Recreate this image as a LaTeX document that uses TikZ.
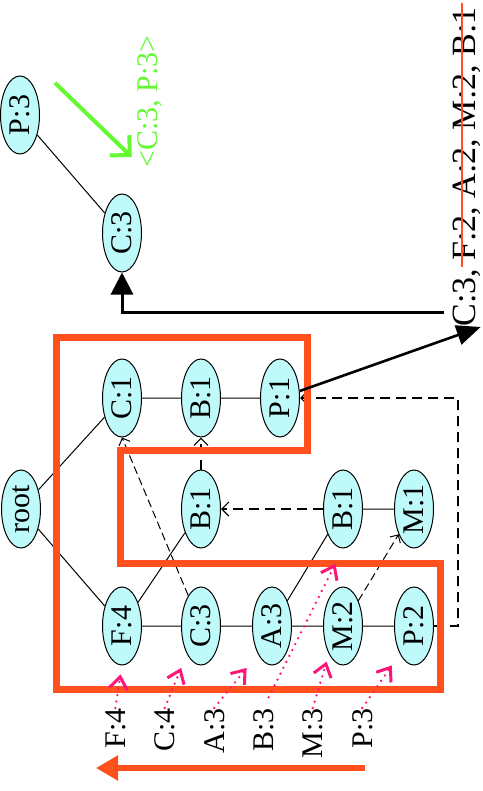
\documentclass[tikz,border=0pt]{standalone}
\usepackage{fontspec}
\setmainfont{Liberation Serif}
\usepackage{graphicx}
\usetikzlibrary{arrows.meta, shapes.geometric}
\definecolor{fpcyan}{RGB}{190,250,250}
\definecolor{fporange}{RGB}{255,80,30}
\definecolor{fppink}{RGB}{255,20,120}
\definecolor{fpgreen}{RGB}{100,250,50}

\begin{document}
\begin{tikzpicture}[x=0.5pt, y=-0.5pt, every node/.style={font=\fontsize{15}{18}\selectfont},
  fp/.style={ellipse, draw, fill=fpcyan, line width=0.5pt, minimum width=19.5pt, minimum height=39pt, inner sep=0pt},
  lbl/.style={rotate=90, inner sep=0pt},
  edge/.style={line width=0.5pt},
  link/.style={line width=0.5pt, dash pattern=on 4pt off 2pt, -{Straight Barb[length=3pt,width=6pt]}},
  hlink/.style={line width=1pt, dash pattern=on 5pt off 3pt, -{Straight Barb[length=3.5pt,width=7pt,line width=0.6pt]}},
  ptr/.style={fppink, line width=1.3pt, dash pattern=on 0pt off 3.3pt, line cap=round, -{Straight Barb[length=6pt,width=9pt,line width=1.5pt]}}]
\useasboundingbox (0,0) rectangle (482,791);

% fp-tree
\node[fp] (root) at (21,509) {\rotatebox{90}{root}};
\node[fp] (c1) at (122,398) {\rotatebox{90}{C:1}};
\node[fp] (b1) at (201,398) {\rotatebox{90}{B:1}};
\node[fp] (p1) at (280,398) {\rotatebox{90}{P:1}};
\node[fp] (b1m) at (201,509) {\rotatebox{90}{B:1}};
\node[fp] (b1r) at (343,509) {\rotatebox{90}{B:1}};
\node[fp] (m1) at (414,509) {\rotatebox{90}{M:1}};
\node[fp] (f4) at (122,626) {\rotatebox{90}{F:4}};
\node[fp] (c3) at (201,626) {\rotatebox{90}{C:3}};
\node[fp] (a3) at (272,626) {\rotatebox{90}{A:3}};
\node[fp] (m2) at (343,626) {\rotatebox{90}{M:2}};
\node[fp] (p2) at (414,626) {\rotatebox{90}{P:2}};
\draw[edge] (root) -- (c1) -- (b1) -- (p1);
\draw[edge] (root) -- (f4) -- (c3) -- (a3) -- (m2) -- (p2);
\draw[edge] (f4) -- (b1m);
\draw[edge] (a3) -- (b1r) -- (m1);

% node-links
\draw[link] (c3) -- (c1.south);
\draw[link] (m2) -- (m1);
\draw[hlink] (b1m) -- (b1);
\draw[hlink] (b1r) -- (b1m);
\draw[hlink] (p2.east) -- ++(24,0) |- (p1.east);

% conditional pattern base of P
\draw[fporange, line width=3.5pt, line join=miter] (56,337) -- (307,337) -- (307,450) -- (120,450)
  -- (120,563) -- (440,563) -- (440,689) -- (56,689) -- cycle;

% header table
\node[lbl, anchor=base east] (hf) at (125,708) {F:4};
\node[lbl, anchor=base east] (hc) at (174.5,708) {C:4};
\node[lbl, anchor=base east] (ha) at (224,708) {A:3};
\node[lbl, anchor=base east] (hb) at (273,708) {B:3};
\node[lbl, anchor=base east] (hm) at (322.5,708) {M:3};
\node[lbl, anchor=base east] (hp) at (372,708) {P:3};
\draw[ptr, shorten >=4.5pt] (hf.east) -- (f4.south);
\draw[ptr, shorten >=7.5pt] (hc.east) -- (c3.south west);
\draw[ptr, shorten >=9pt] (ha.east) -- (a3.south west);
\draw[ptr, shorten <=6pt, shorten >=8.5pt] (hb.east) -- (b1r.south);
\draw[ptr, shorten >=4pt] (hm.east) -- (m2.south west);
\draw[ptr, shorten >=7pt] (hp.east) -- (p2.south west);
\coordinate (ostart) at (365,768);
\coordinate (oend) at (96,768);
\draw[fporange, line width=3.3pt, -{Triangle[length=11pt,width=12pt]}] (ostart) -- (oend);

% prefix paths and conditional tree
\node[lbl, anchor=base west, font=\fontsize{17}{20}\selectfont] (plist) at (475,327) {C:3, F:2, A:2, M:2, B:1};
\draw[fporange, line width=1.2pt] (462,3) -- (462,267);
\draw[line width=1.3pt, -{Triangle[length=12pt,width=10pt]}] (p1) -- (plist.south west);
\node[fp] (np3) at (20,115) {\rotatebox{90}{P:3}};
\node[fp] (nc3) at (122,233) {\rotatebox{90}{C:3}};
\draw[edge] (np3) -- (nc3);
\draw[line width=1.5pt, -{Triangle[length=11pt,width=11pt]}] ([shift={(-8,-15)}]plist.north west) -| (nc3.south);
\node[lbl, anchor=base west, text=fpgreen] (pat) at (157,168) {<C:3, P:3>};
\coordinate (gstart) at (55,83);
\draw[fpgreen, line width=2pt, -{Straight Barb[length=7pt,width=14pt]}] (gstart) -- ([shift={(-5,-11)}]pat.north west);
\end{tikzpicture}
\end{document}
